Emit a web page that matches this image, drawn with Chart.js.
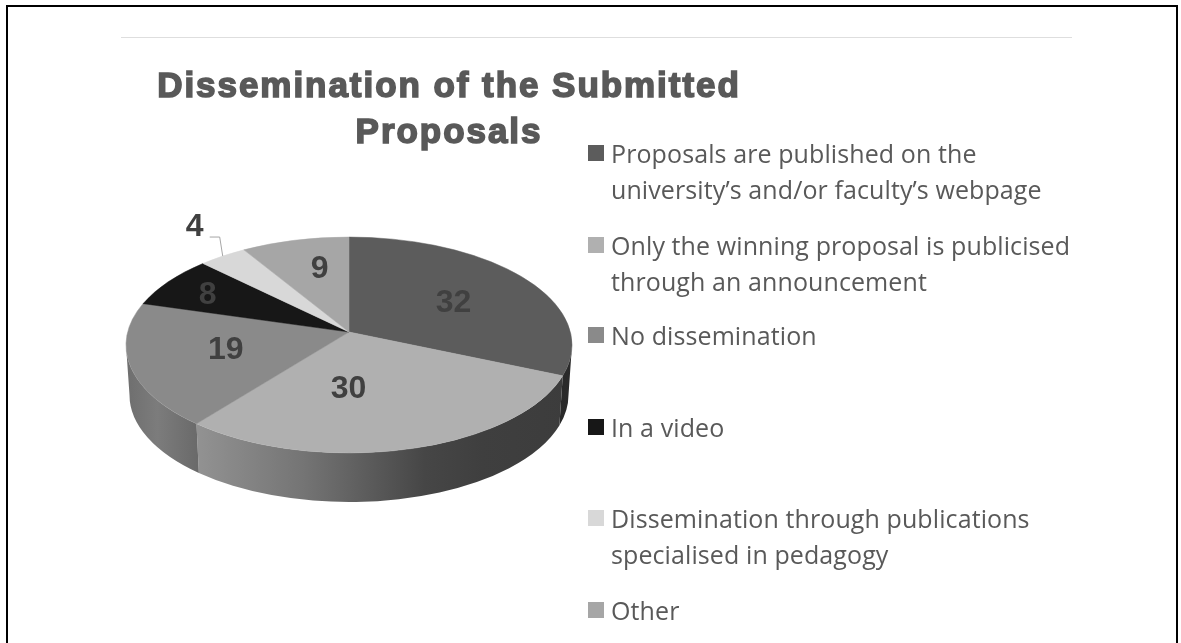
<!DOCTYPE html>
<html>
<head>
<meta charset="utf-8">
<title>Dissemination of the Submitted Proposals</title>
<script src="https://cdn.jsdelivr.net/npm/chart.js@4"></script>
<style>
    html, body { margin: 0; padding: 0; background: #fff; }
    #page { position: relative; width: 1181px; height: 643px; overflow: hidden; }
    #frame { position: absolute; left: 6px; top: 5px; width: 1172px; height: 700px; border: 2px solid #000; box-sizing: border-box; }
    #rule { position: absolute; left: 121px; top: 37px; width: 951px; height: 1px; background: #dedede; }
    #pieChart { position: absolute; left: 0; top: 0; }
    .title { position: absolute; left: 149px; width: 600px; text-align: center; color: #595959; white-space: nowrap;
             font: bold 35px "Liberation Sans", sans-serif; letter-spacing: 1.95px; -webkit-text-stroke: 1.6px #595959; line-height: 46px; }
    .legendLine { position: absolute; left: 611px; color: #595959; white-space: nowrap; font: 25px "Open Sans", sans-serif; letter-spacing: 0.1px; line-height: 36px; }
    .legendBox { position: absolute; left: 588px; width: 16px; height: 16px; }
</style>
</head>
<body>
<div id="page">
    <div id="frame"></div>
    <div id="rule"></div>
    <canvas id="pieChart" width="1181" height="643"></canvas>
    <div id="titleBox"></div>
    <div id="legendBox"></div>
</div>
<script>
const titleLines = ['Dissemination of the Submitted', 'Proposals'];
const categories = [
    ['Proposals are published on the', 'university\u2019s and/or faculty\u2019s webpage'],
    ['Only the winning proposal is publicised', 'through an announcement'],
    ['No dissemination'],
    ['In a video'],
    ['Dissemination through publications', 'specialised in pedagogy'],
    ['Other']
];
const values = [32, 30, 19, 8, 4, 9];

// styles, kept apart from the data
const sliceColors = ['#5c5c5c', '#b0b0b0', '#8a8a8a', '#171717', '#d8d8d8', '#a6a6a6'];
const legendRowY = [135, 227, 317, 409, 500, 592];
const labelNudge = [[1, 4], [-37, -13], [8, -2], [-33, -7], [0, 0], [3, -8]];

// wall shading per slice: [x fraction across the pie, grey]
const wallStops = [
    [[0, '#2a2a2a'], [1, '#111111']],
    [[0, '#3c3c3c'], [0.2, '#3f3f3f'], [0.33, '#464646'], [0.6, '#747474'], [0.84, '#929292']],
    [[0.84, '#6a6a6a'], [0.93, '#7c7c7c'], [1, '#6e6e6e']]
];

// perspective of the tilted pie
const TILT = 0.484;
const APEX_LIFT = 13;
const BOTTOM_RX = 219.5;
const BOTTOM_RY = 107;
const BOTTOM_DROP = 50;

// point where a ray from the apex at a real pie angle leaves the top ellipse
function rimParam(arc, angle) {
    const rx = arc.outerRadius, ry = rx * TILT;
    const dx = Math.cos(angle), dy = Math.sin(angle) * TILT;
    const ax = 0, ay = -APEX_LIFT;
    const a = dx * dx / (rx * rx) + dy * dy / (ry * ry);
    const b = 2 * (ax * dx / (rx * rx) + ay * dy / (ry * ry));
    const c = ax * ax / (rx * rx) + ay * ay / (ry * ry) - 1;
    const s = (-b + Math.sqrt(b * b - 4 * a * c)) / (2 * a);
    return Math.atan2((ay + s * dy) / ry, (ax + s * dx) / rx);
}

const pie3d = {
    id: 'pie3d',
    beforeDatasetsDraw(chart) {
        const ctx = chart.ctx;
        const arcs = chart.getDatasetMeta(0).data;
        const cx = arcs[0].x, cy = arcs[0].y, rx = arcs[0].outerRadius, ry = rx * TILT;
        const apexY = cy - APEX_LIFT;

        // side wall, only the front half of the rim can be seen
        const wallLeft = cx - rx, wallWidth = 2 * rx;
        let wall = 0;
        arcs.forEach((arc) => {
            const from = Math.max(rimParam(arc, arc.startAngle > Math.PI ? arc.startAngle - 2 * Math.PI : arc.startAngle), 0);
            const endAngle = arc.endAngle;
            if (arc.startAngle >= Math.PI) return;
            const to = Math.min(endAngle >= Math.PI ? Math.PI : rimParam(arc, endAngle), Math.PI);
            const stops = wallStops[wall++];
            if (!stops || to <= from) return;
            const grad = ctx.createLinearGradient(wallLeft + wallWidth, 0, wallLeft, 0);
            stops.forEach((s) => grad.addColorStop(s[0], s[1]));
            ctx.beginPath();
            ctx.ellipse(cx, cy, rx, ry, 0, from, to, false);
            ctx.ellipse(cx, cy + BOTTOM_DROP, BOTTOM_RX, BOTTOM_RY, 0, to, from, true);
            ctx.closePath();
            ctx.fillStyle = grad;
            ctx.fill();
        });

        // top face
        arcs.forEach((arc, i) => {
            const t0 = rimParam(arc, arc.startAngle);
            const t1 = rimParam(arc, arc.endAngle);
            ctx.beginPath();
            ctx.moveTo(cx, apexY);
            ctx.ellipse(cx, cy, rx, ry, 0, t0, t1, false);
            ctx.closePath();
            ctx.fillStyle = sliceColors[i];
            ctx.strokeStyle = sliceColors[i];
            ctx.lineWidth = 0.5;
            ctx.fill();
            ctx.stroke();
        });

        // value labels on the slices
        ctx.font = 'bold 32px "Liberation Sans", sans-serif';
        ctx.fillStyle = '#404040';
        ctx.textAlign = 'center';
        ctx.textBaseline = 'middle';
        arcs.forEach((arc, i) => {
            const mid = (arc.startAngle + arc.endAngle) / 2;
            const t = rimParam(arc, mid);
            const rimX = cx + rx * Math.cos(t), rimY = cy + ry * Math.sin(t);
            if (values[i] < 5) {
                // small slice: label sits outside with a leader line
                const kneeY = rimY - 19;
                ctx.strokeStyle = '#a6a6a6';
                ctx.lineWidth = 1;
                ctx.beginPath();
                ctx.moveTo(rimX, rimY);
                ctx.lineTo(rimX - 3, kneeY);
                ctx.lineTo(rimX - 13, kneeY);
                ctx.stroke();
                ctx.fillText(String(values[i]), rimX - 28 + labelNudge[i][0], kneeY - 10 + labelNudge[i][1]);
                return;
            }
            const lx = cx + (rimX - cx) * 0.6 + labelNudge[i][0];
            const ly = apexY + (rimY - apexY) * 0.6 + labelNudge[i][1];
            ctx.fillText(String(values[i]), lx, ly);
        });
        return false;
    }
};

new Chart(document.getElementById('pieChart'), {
    type: 'pie',
    data: {
        labels: categories.map((c) => c.join(' ')),
        datasets: [{ data: values, backgroundColor: sliceColors, borderWidth: 0 }]
    },
    options: {
        responsive: false,
        animation: false,
        layout: { padding: { left: 126, right: 609, top: 122, bottom: 75 } },
        plugins: { legend: { display: false }, tooltip: { enabled: false } }
    },
    plugins: [pie3d]
});

// title and legend as page text
const titleBox = document.getElementById('titleBox');
titleLines.forEach((line, i) => {
    const el = document.createElement('div');
    el.className = 'title';
    el.style.top = (62 + i * 46) + 'px';
    el.textContent = line;
    titleBox.appendChild(el);
});

const legendBox = document.getElementById('legendBox');
categories.forEach((lines, i) => {
    const box = document.createElement('div');
    box.className = 'legendBox';
    box.style.top = (legendRowY[i] + 10) + 'px';
    box.style.background = sliceColors[i];
    legendBox.appendChild(box);
    lines.forEach((line, j) => {
        const el = document.createElement('div');
        el.className = 'legendLine';
        el.style.top = (legendRowY[i] + j * 36) + 'px';
        el.textContent = line;
        legendBox.appendChild(el);
    });
});
</script>
</body>
</html>
